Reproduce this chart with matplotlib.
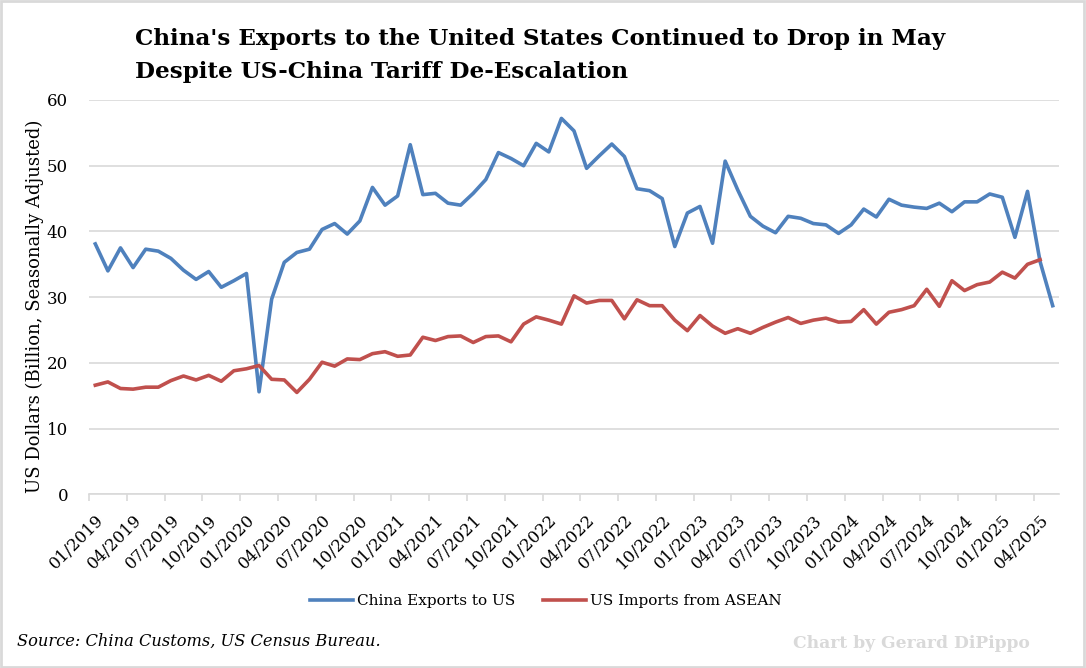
import matplotlib.pyplot as plt
import numpy as np

# monthly data, 01/2019 - 05/2025 (US Dollars, billion, SA)
months = ['%02d/%d' % (m, y) for y in range(2019, 2026) for m in range(1, 13)][:77]

china_exports = [38.1, 34.0, 37.5, 34.5, 37.3, 37.0, 35.9, 34.1, 32.7, 33.9, 31.5, 32.5,
                 33.6, 15.6, 29.7, 35.3, 36.8, 37.3, 40.3, 41.2, 39.6, 41.6, 46.7, 44.0,
                 45.4, 53.2, 45.6, 45.8, 44.3, 44.0, 45.8, 47.9, 52.0, 51.1, 50.0, 53.4,
                 52.1, 57.2, 55.3, 49.6, 51.5, 53.3, 51.4, 46.5, 46.2, 45.0, 37.7, 42.8,
                 43.8, 38.2, 50.7, 46.3, 42.3, 40.8, 39.8, 42.3, 42.0, 41.2, 41.0, 39.7,
                 41.0, 43.4, 42.2, 44.9, 44.0, 43.7, 43.5, 44.3, 43.0, 44.5, 44.5, 45.7,
                 45.2, 39.1, 46.1, 35.4, 28.7]

us_imports_asean = [16.6, 17.1, 16.1, 16.0, 16.3, 16.3, 17.3, 18.0, 17.4, 18.1, 17.2, 18.8,
                    19.1, 19.6, 17.5, 17.4, 15.5, 17.5, 20.1, 19.5, 20.6, 20.5, 21.4, 21.7,
                    21.0, 21.2, 23.9, 23.4, 24.0, 24.1, 23.1, 24.0, 24.1, 23.2, 25.9, 27.0,
                    26.5, 25.9, 30.2, 29.1, 29.5, 29.5, 26.7, 29.6, 28.7, 28.7, 26.5, 24.9,
                    27.2, 25.6, 24.5, 25.2, 24.5, 25.4, 26.2, 26.9, 26.0, 26.5, 26.8, 26.2,
                    26.3, 28.1, 25.9, 27.7, 28.1, 28.7, 31.2, 28.6, 32.5, 31.0, 31.9, 32.3,
                    33.8, 32.9, 35.0, 35.7]

BLUE = '#4f81bd'
RED = '#c0504d'
GRID = '#d9d9d9'
FONT = 'DejaVu Serif'

plt.rcParams['font.family'] = FONT

W, H = 1086, 668
fig = plt.figure(figsize=(W / 100, H / 100), dpi=100)
ax = fig.add_axes([89 / W, 1 - 494.3 / H, (1059 - 89) / W, (494.3 - 100) / H])

x = np.arange(len(months))
ax.plot(x, china_exports, color=BLUE, lw=2.6, label='China Exports to US', solid_joinstyle='round')
ax.plot(x[:len(us_imports_asean)], us_imports_asean, color=RED, lw=2.6,
        label='US Imports from ASEAN', solid_joinstyle='round')

ax.set_xlim(-0.5, len(months) - 0.5)
ax.set_ylim(0, 60)
ax.set_yticks(range(0, 61, 10))
ax.yaxis.grid(True, color=GRID, lw=1.2)
ax.set_axisbelow(True)
ax.tick_params(axis='y', length=0, labelsize=12, pad=15)

# category axis: labels every 3 months, tick marks on boundaries
lab_pos = x[::3]
ax.set_xticks(lab_pos)
ax.set_xticklabels([months[i] for i in lab_pos], rotation=45, ha='right',
                   rotation_mode='anchor', fontsize=12)
ax.tick_params(axis='x', length=0, pad=12)
ax.set_xticks(np.arange(-0.5, len(months), 3), minor=True)
ax.tick_params(axis='x', which='minor', length=5, color=GRID, width=1.2)

for s in ['top', 'right', 'left']:
    ax.spines[s].set_visible(False)
ax.spines['bottom'].set_color(GRID)
ax.spines['bottom'].set_linewidth(1.2)

fig.text(35 / W, 1 - 306 / H, 'US Dollars (Billion, Seasonally Adjusted)', fontsize=13,
         rotation=90, ha='center', va='center')

fig.text(135 / W, 1 - 45 / H,
         "China's Exports to the United States Continued to Drop in May",
         fontsize=16.6, fontweight='bold', va='baseline', ha='left')
fig.text(135 / W, 1 - 78 / H, "Despite US-China Tariff De-Escalation",
         fontsize=16.6, fontweight='bold', va='baseline', ha='left')

fig.legend(loc='center', bbox_to_anchor=(546 / W, 1 - 601 / H), ncol=2,
           frameon=False, fontsize=11, handlelength=2.8, handletextpad=0.3,
           columnspacing=1.8)

fig.text(17 / W, 1 - 641 / H, 'Source: China Customs, US Census Bureau.',
         fontsize=11.7, style='italic', va='center')
fig.text(1030 / W, 1 - 643 / H, 'Chart by Gerard DiPippo', fontsize=12.3,
         fontweight='bold', color='#d9d9d9', va='center', ha='right')

# light frame around the whole chart
fig.add_artist(plt.Rectangle((0.001, 0.002), 0.997, 0.996, transform=fig.transFigure,
                             fill=False, edgecolor='#d9d9d9', lw=2))

fig.savefig('out.png', dpi=100)
